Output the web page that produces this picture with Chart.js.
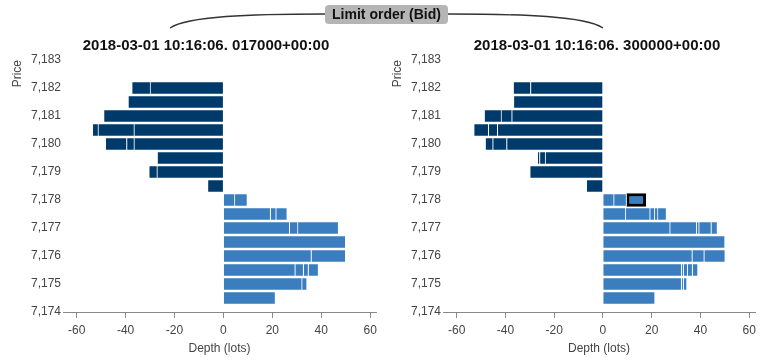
<!DOCTYPE html>
<html>
<head>
<meta charset="utf-8">
<script src="https://cdn.jsdelivr.net/npm/chart.js@4/dist/chart.umd.min.js"></script>
<style>
  body { margin: 0; background: #fff; }
  #wrap { position: relative; width: 770px; height: 360px; font-family: "Liberation Sans", Arial, sans-serif; }
  canvas { position: absolute; top: 0; }
  .ptitle { position: absolute; top: 36px; font-size: 15px; font-weight: bold; color: #111; white-space: nowrap; transform: translateX(-50%); line-height: 18px; }
  #tag { position: absolute; left: 325px; top: 5px; width: 123px; height: 19px; background: #b5b5b5; border-radius: 4px;
         font-size: 14px; font-weight: bold; color: #111; text-align: center; line-height: 19px; }
  svg { position: absolute; left: 0; top: 0; }
</style>
</head>
<body>
<div id="wrap">
  <canvas id="left_book_canvas" width="385" height="360" style="left:0"></canvas>
  <canvas id="right_book_canvas" width="385" height="360" style="left:380px"></canvas>
  <svg width="770" height="40">
    <path d="M170,28 C188,16 250,14 325,14" fill="none" stroke="#333" stroke-width="1.3"/>
    <path d="M448,14 C523,14 585,16 603,28" fill="none" stroke="#333" stroke-width="1.3"/>
  </svg>
  <div id="tag">Limit order (Bid)</div>
  <div class="ptitle" id="left_title" style="left:206px"></div>
  <div class="ptitle" id="right_title" style="left:597px"></div>
</div>
<script>
// price axis, top to bottom (half-tick steps)
var priceLabels = [7183, 7182.5, 7182, 7181.5, 7181, 7180.5, 7180, 7179.5, 7179, 7178.5,
                   7178, 7177.5, 7177, 7176.5, 7176, 7175.5, 7175, 7174.5, 7174];
var askLevels = [7182, 7181.5, 7181, 7180.5, 7180, 7179.5, 7179, 7178.5];
var bidLevels = [7178, 7177.5, 7177, 7176.5, 7176, 7175.5, 7175, 7174.5];

var titleA = "2018-03-01 10:16:06. 017000+00:00";
var titleB = "2018-03-01 10:16:06. 300000+00:00";

// order sizes (lots) in queue order, innermost first
var asksA = [[30, 7.5], [39], [49], [36.6, 14.7, 2.3], [36.6, 3, 8.7], [27.1], [27.2, 3.3], [6.5]];
var bidsA = [[4.7, 5.1], [19.3, 2.3, 4.5], [27.1, 3.4, 16.6], [50], [36, 14], [29.4, 3.4, 2, 4.1], [32.2, 2], [21.3]];

var asksB = [[29.7, 7.1], [36.7], [37.4, 4.4, 6.9], [43.3, 3.7, 6], [39.5, 5.7, 3.1], [23.7, 2.3, 0.9], [30], [6.8]];
var bidsB = [[4.6, 5.1, 7.9], [9.4, 10, 1.9, 1.3, 3.5], [27.6, 10.9, 1, 5, 2.5], [50.1], [36.7, 4.9, 8.6], [32.3, 0.8, 1.7, 2, 2.2], [32.3, 0.8, 1.4], [21.4]];

// the new limit order that is outlined in the second book
var highlightPriceB = 7178;
var highlightOrderB = 2;

var depthTicks = [-60, -40, -20, 0, 20, 40, 60];

var askColor = '#003a6b';
var bidColor = '#3b7ebf';

function buildDatasets(asks, bids, hlPrice, hlOrder) {
    var depth = 0;
    asks.concat(bids).forEach(function(o) { depth = Math.max(depth, o.length); });
    var sets = [];
    for (var k = 0; k < depth; k++) {
        var data = priceLabels.map(function() { return null; });
        askLevels.forEach(function(p, i) {
            if (asks[i][k] != null) data[priceLabels.indexOf(p)] = -asks[i][k];
        });
        bidLevels.forEach(function(p, i) {
            if (bids[i][k] != null) data[priceLabels.indexOf(p)] = bids[i][k];
        });
        (function(k) {
            var isHl = function(ctx) {
                return hlPrice != null && k === hlOrder && priceLabels[ctx.dataIndex] === hlPrice;
            };
            sets.push({
                data: data,
                backgroundColor: function(ctx) { return ctx.raw < 0 ? askColor : bidColor; },
                borderColor: function(ctx) { return isHl(ctx) ? '#000' : 'rgba(255,255,255,0.95)'; },
                borderWidth: function(ctx) { return isHl(ctx) ? 3 : 1; },
                borderSkipped: function(ctx) { return isHl(ctx) ? false : 'start'; },
                barThickness: 13,
                stack: 'book'
            });
        })(k);
    }
    return sets;
}

function formatPrice(p) {
    var s = String(p);
    return s.slice(0, s.length - 3) + ',' + s.slice(s.length - 3);
}

function bookConfig(asks, bids, hlPrice, hlOrder, padRight) {
    return {
        type: 'bar',
        data: { labels: priceLabels, datasets: buildDatasets(asks, bids, hlPrice, hlOrder) },
        options: {
            indexAxis: 'y',
            responsive: false,
            animation: false,
            layout: { padding: { top: 60, left: 0, right: padRight, bottom: 0 } },
            plugins: { legend: { display: false }, tooltip: { enabled: false }, title: { display: false } },
            scales: {
                x: {
                    type: 'linear',
                    stacked: true,
                    min: -65.6,
                    max: 62.4,
                    afterBuildTicks: function(scale) {
                        scale.ticks = depthTicks.map(function(v) { return { value: v }; });
                    },
                    ticks: { color: '#444', font: { family: 'Liberation Sans', size: 12 }, padding: 5, maxRotation: 0 },
                    grid: { drawOnChartArea: false, drawTicks: true, tickLength: 6, color: '#888' },
                    border: { display: true, color: '#888' },
                    title: { display: true, text: 'Depth (lots)', color: '#444',
                             font: { family: 'Liberation Sans', size: 12 }, padding: { top: 0, bottom: 4 } },
                    afterFit: function(scale) { scale.height = 48; }
                },
                y: {
                    type: 'category',
                    stacked: true,
                    offset: false,
                    ticks: {
                        autoSkip: false,
                        color: '#444',
                        font: { family: 'Liberation Sans', size: 12 },
                        padding: 2,
                        callback: function(value, index) {
                            var p = priceLabels[index];
                            return Number.isInteger(p) ? formatPrice(p) : '';
                        }
                    },
                    grid: { display: false, drawTicks: false, offset: false },
                    border: { display: false },
                    title: { display: true, text: 'Price', align: 'end', color: '#444',
                             font: { family: 'Liberation Sans', size: 12 }, padding: { top: 10, bottom: 0 } },
                    afterFit: function(scale) { scale.width = 63; }
                }
            }
        }
    };
}

document.getElementById('left_title').textContent = titleA;
document.getElementById('right_title').textContent = titleB;

var ctx = document.getElementById('left_book_canvas').getContext('2d');
window.leftBook = new Chart(ctx, bookConfig(asksA, bidsA, null, null, 9));

ctx = document.getElementById('right_book_canvas').getContext('2d');
window.rightBook = new Chart(ctx, bookConfig(asksB, bidsB, highlightPriceB, highlightOrderB, 10));
</script>
</body>
</html>
